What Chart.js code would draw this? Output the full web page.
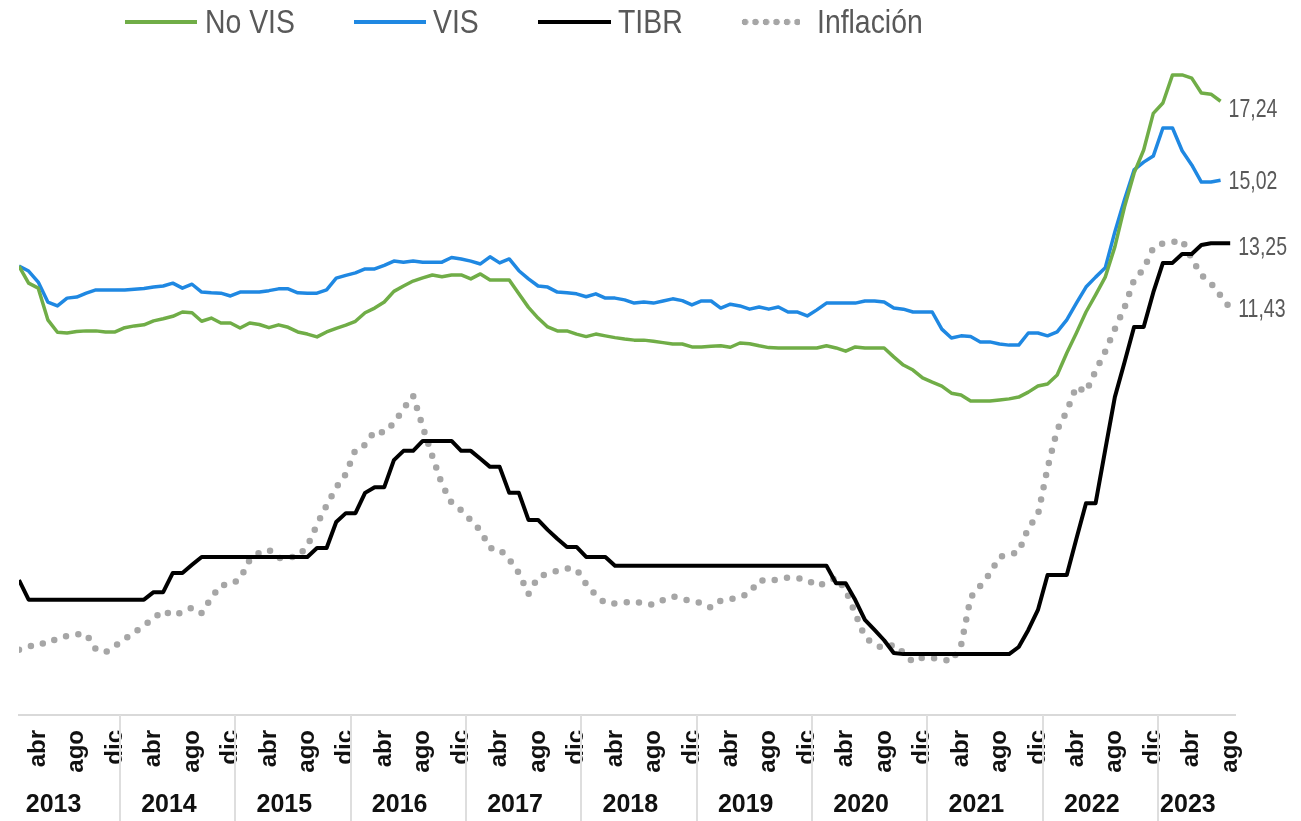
<!DOCTYPE html>
<html>
<head>
<meta charset="utf-8">
<script src="https://cdn.jsdelivr.net/npm/chart.js@4.4.1/dist/chart.umd.min.js"></script>
<style>
  html, body { margin: 0; padding: 0; background: #ffffff; }
  #wrap { position: relative; width: 1301px; height: 821px; overflow: hidden; }
  #c { position: absolute; left: 0; top: 0; }
  #legend { position: absolute; left: 0; top: 0; width: 1301px; height: 44px; pointer-events: none; }
  .sw { position: absolute; top: 20px; height: 4px; }
  .sw.dots { top: 17px; height: 10px; background-repeat: repeat-x; background-position: 0 0; }
  .lt { position: absolute; top: 0; height: 44px; line-height: 44px; color: #595959; white-space: nowrap;
        transform: scaleX(0.86); transform-origin: 0 50%; }
</style>
</head>
<body>
<div id="wrap">
  <canvas id="c" width="1301" height="821"></canvas>
  <div id="legend"></div>
</div>
<script>
// ---------------- DATA ----------------
const SERIES_NAMES = ['No VIS', 'VIS', 'TIBR', 'Inflación'];
const YEARS = ['2013', '2014', '2015', '2016', '2017', '2018', '2019', '2020', '2021', '2022', '2023'];
const TICK_MONTHS = ['abr', 'ago', 'dic'];
const MONTH_NAMES = ['ene', 'feb', 'mar', 'abr', 'may', 'jun', 'jul', 'ago', 'sep', 'oct', 'nov', 'dic'];
const FIRST_MONTH = 1;   // feb 2013 (months counted from ene 2013 = 0)
const LAST_MONTH = 127;  // ago 2023

const NO_VIS = [
  12.61, 12.13, 11.99, 11.10, 10.75, 10.73, 10.77, 10.79, 10.79, 10.76,
  10.76, 10.88, 10.93, 10.96, 11.07, 11.13, 11.20, 11.32, 11.30, 11.06,
  11.15, 11.01, 11.01, 10.87, 11.01, 10.97, 10.88, 10.96, 10.89, 10.76,
  10.70, 10.62, 10.76, 10.86, 10.95, 11.06, 11.30, 11.43, 11.60, 11.90,
  12.05, 12.19, 12.28, 12.36, 12.31, 12.36, 12.36, 12.25, 12.39, 12.22,
  12.22, 12.22, 11.83, 11.45, 11.15, 10.90, 10.79, 10.79, 10.70, 10.63,
  10.70, 10.65, 10.60, 10.56, 10.53, 10.53, 10.50, 10.46, 10.42, 10.42,
  10.34, 10.34, 10.36, 10.37, 10.33, 10.45, 10.43, 10.37, 10.32, 10.31,
  10.31, 10.31, 10.31, 10.31, 10.37, 10.31, 10.22, 10.34, 10.31, 10.31,
  10.31, 10.06, 9.83, 9.69, 9.47, 9.35, 9.24, 9.04, 8.99, 8.82,
  8.82, 8.82, 8.85, 8.88, 8.93, 9.07, 9.24, 9.30, 9.55, 10.17,
  10.73, 11.32, 11.80, 12.30, 13.15, 14.27, 15.22, 15.87, 16.90, 17.19,
  17.98, 17.98, 17.89, 17.47, 17.44, 17.24
];
const VIS = [
  12.61, 12.47, 12.16, 11.60, 11.49, 11.71, 11.74, 11.85, 11.94, 11.94,
  11.94, 11.94, 11.96, 11.98, 12.02, 12.05, 12.13, 11.99, 12.10, 11.88,
  11.86, 11.85, 11.77, 11.88, 11.88, 11.88, 11.92, 11.97, 11.97, 11.86,
  11.85, 11.85, 11.94, 12.27, 12.35, 12.42, 12.53, 12.53, 12.63, 12.75,
  12.72, 12.75, 12.72, 12.72, 12.72, 12.85, 12.81, 12.75, 12.67, 12.87,
  12.70, 12.81, 12.48, 12.25, 12.05, 12.02, 11.88, 11.86, 11.83, 11.75,
  11.83, 11.71, 11.71, 11.66, 11.57, 11.60, 11.57, 11.63, 11.69, 11.64,
  11.52, 11.63, 11.63, 11.43, 11.54, 11.49, 11.40, 11.46, 11.40, 11.46,
  11.32, 11.32, 11.21, 11.38, 11.57, 11.57, 11.57, 11.57, 11.63, 11.63,
  11.60, 11.43, 11.40, 11.32, 11.32, 11.32, 10.84, 10.59, 10.65, 10.63,
  10.48, 10.48, 10.42, 10.39, 10.39, 10.73, 10.73, 10.65, 10.76, 11.10,
  11.57, 12.02, 12.30, 12.56, 13.57, 14.47, 15.31, 15.53, 15.70, 16.49,
  16.49, 15.85, 15.45, 14.97, 14.97, 15.02
];
const TIBR = [
  3.79, 3.24, 3.24, 3.24, 3.24, 3.24, 3.24, 3.24, 3.24, 3.24,
  3.24, 3.24, 3.24, 3.24, 3.45, 3.45, 3.99, 3.99, 4.22, 4.44,
  4.44, 4.44, 4.44, 4.44, 4.44, 4.44, 4.44, 4.44, 4.44, 4.44,
  4.44, 4.69, 4.69, 5.42, 5.67, 5.67, 6.24, 6.40, 6.40, 7.16,
  7.42, 7.42, 7.70, 7.70, 7.70, 7.70, 7.42, 7.42, 7.20, 6.97,
  6.97, 6.24, 6.24, 5.48, 5.48, 5.20, 4.95, 4.72, 4.72, 4.44,
  4.44, 4.44, 4.19, 4.19, 4.19, 4.19, 4.19, 4.19, 4.19, 4.19,
  4.19, 4.19, 4.19, 4.19, 4.19, 4.19, 4.19, 4.19, 4.19, 4.19,
  4.19, 4.19, 4.19, 4.19, 4.19, 3.70, 3.70, 3.23, 2.67, 2.39,
  2.10, 1.74, 1.71, 1.71, 1.71, 1.71, 1.71, 1.71, 1.71, 1.71,
  1.71, 1.71, 1.71, 1.71, 1.91, 2.39, 2.95, 3.93, 3.93, 3.93,
  4.95, 5.95, 5.95, 7.45, 8.93, 9.90, 10.90, 10.90, 11.87, 12.70,
  12.70, 12.95, 12.95, 13.20, 13.25, 13.25, 13.25
];
const INFLACION = [
  1.83, 1.91, 2.02, 2.00, 2.16, 2.22, 2.27, 2.27, 1.84, 1.76, 1.94,
  2.13, 2.32, 2.51, 2.72, 2.93, 2.79, 2.89, 3.02, 2.86, 3.29, 3.65, 3.66,
  3.82, 4.36, 4.56, 4.64, 4.41, 4.42, 4.46, 4.74, 5.35, 5.89, 6.39, 6.77,
  7.45, 7.59, 7.98, 7.93, 8.20, 8.60, 8.97, 8.10, 7.27, 6.48, 5.96, 5.75,
  5.47, 5.18, 4.69, 4.66, 4.37, 3.99, 3.40, 3.87, 3.97, 4.05, 4.12, 4.09,
  3.68, 3.37, 3.14, 3.13, 3.16, 3.20, 3.12, 3.10, 3.23, 3.33, 3.27, 3.18,
  3.15, 3.01, 3.21, 3.25, 3.31, 3.43, 3.79, 3.75, 3.82, 3.86, 3.84, 3.80,
  3.62, 3.72, 3.86, 3.51, 2.85, 2.19, 1.97, 1.88, 1.97, 1.75, 1.49, 1.61,
  1.60, 1.56, 1.51, 1.95, 3.30, 3.63, 3.97, 4.44, 4.51, 4.58, 5.26, 5.62,
  6.94, 8.01, 8.53, 9.23, 9.07, 9.67, 10.21, 10.84, 11.44, 12.22, 12.53, 13.12,
  13.25, 13.28, 13.34, 12.82, 12.36, 12.13, 11.78, 11.43
];

// month labels for every point (category list)
const MONTH_LABELS = [];
for (let m = FIRST_MONTH; m <= LAST_MONTH; m++) {
  MONTH_LABELS.push(MONTH_NAMES[m % 12] + ' ' + YEARS[Math.floor(m / 12)]);
}

// ---------------- STYLE ----------------
const SANS = '"Liberation Sans", Arial, sans-serif';
const COLORS = ['#70AD47', '#1F88E2', '#000000', '#A6A6A6'];
const END_DY = [9, 2, 5, 2];
const YEAR_LABEL_SHIFT = -0.9; // months

function toPoints(arr) {
  return arr.map((v, i) => ({ x: FIRST_MONTH + i, y: v }));
}

// legend (HTML overlay, real text)
(function buildLegend() {
  const L = document.getElementById('legend');
  const swX = [125, 354, 538, 740];
  const swW = [72, 72, 73, 60];
  const txX = [205, 433, 618, 817];
  SERIES_NAMES.forEach((name, i) => {
    const sw = document.createElement('div');
    sw.className = 'sw' + (i === 3 ? ' dots' : '');
    sw.style.left = swX[i] + 'px';
    sw.style.width = swW[i] + 'px';
    if (i === 3) {
      sw.style.backgroundImage = 'radial-gradient(circle at 5px 5px, ' + COLORS[3] + ' 3px, rgba(255,255,255,0) 3.6px)';
      sw.style.backgroundSize = '10.5px 10px';
    } else {
      sw.style.background = COLORS[i];
    }
    L.appendChild(sw);
    const t = document.createElement('div');
    t.className = 'lt';
    t.style.left = txX[i] + 'px';
    t.style.fontFamily = SANS;
    t.style.fontSize = '33px';
    t.textContent = name;
    L.appendChild(t);
  });
})();

// separators between years (positions from the x scale)
const yearSeparators = {
  id: 'yearSeparators',
  afterDraw(chart) {
    const xs = chart.scales.x;
    const ctx = chart.ctx;
    ctx.save();
    ctx.strokeStyle = '#DEDEDE';
    ctx.lineWidth = 2;
    for (let k = 1; k < YEARS.length; k++) {
      const px = Math.round(xs.getPixelForValue(12 * k - 0.5));
      ctx.beginPath();
      ctx.moveTo(px, xs.top);
      ctx.lineTo(px, chart.height);
      ctx.stroke();
    }
    ctx.restore();
  }
};

// value labels at the end of each line
const endLabels = {
  id: 'endLabels',
  afterDatasetsDraw(chart) {
    const ctx = chart.ctx;
    chart.data.datasets.forEach((d, i) => {
      const meta = chart.getDatasetMeta(i);
      const el = meta.data[meta.data.length - 1];
      const v = d.data[d.data.length - 1].y;
      ctx.save();
      ctx.translate(el.x + 8, el.y + END_DY[i]);
      ctx.scale(0.78, 1);
      ctx.font = '25px ' + SANS;
      ctx.fillStyle = '#595959';
      ctx.textAlign = 'left';
      ctx.textBaseline = 'middle';
      ctx.fillText(v.toFixed(2).replace('.', ','), 0, 0);
      ctx.restore();
    });
  }
};

const seriesData = [NO_VIS, VIS, TIBR, INFLACION];
const datasets = seriesData.map((arr, i) => {
  const base = {
    label: SERIES_NAMES[i],
    data: toPoints(arr),
    borderColor: COLORS[i],
    backgroundColor: COLORS[i],
    borderWidth: i === 2 ? 4 : 3.5,
    pointRadius: 0,
    pointHoverRadius: 0,
    tension: 0,
    fill: false,
    borderJoinStyle: 'round',
    borderCapStyle: 'butt'
  };
  if (i === 3) {
    base.borderWidth = 6.5;
    base.borderDash = [0, 12.5];
    base.borderCapStyle = 'round';
  }
  return base;
});

new Chart(document.getElementById('c'), {
  type: 'line',
  data: { datasets },
  options: {
    responsive: false,
    animation: false,
    events: [],
    layout: { padding: { left: 19, right: 66, top: 3, bottom: 0 } },
    plugins: { legend: { display: false }, tooltip: { enabled: false } },
    scales: {
      y: { display: false, min: 0, max: 20 },
      x: {
        type: 'linear',
        position: 'bottom',
        weight: 0,
        min: FIRST_MONTH,
        max: LAST_MONTH + 0.5,
        bounds: 'data',
        grid: { display: false, drawTicks: false },
        border: { display: true, color: '#D9D9D9', width: 2 },
        afterBuildTicks(s) {
          const t = [];
          for (let m = 3; m <= LAST_MONTH; m += 4) t.push({ value: m });
          s.ticks = t;
        },
        afterFit(s) { s.height = 58; },
        ticks: {
          autoSkip: false,
          minRotation: 90,
          maxRotation: 90,
          padding: 15,
          color: '#111111',
          font: { family: SANS, size: 24, weight: 'bold' },
          callback: (v) => TICK_MONTHS[Math.round((v - 3) / 4) % 3]
        }
      },
      x2: {
        type: 'linear',
        position: 'bottom',
        weight: 1,
        min: FIRST_MONTH,
        max: LAST_MONTH + 0.5,
        bounds: 'data',
        grid: { display: false, drawTicks: false },
        border: { display: false },
        afterBuildTicks(s) {
          s.ticks = YEARS.map((y, k) => {
            const a = 12 * k - 0.5;
            const b = Math.min(12 * k + 11.5, LAST_MONTH + 0.5);
            return { value: (a + b) / 2 + YEAR_LABEL_SHIFT };
          });
        },
        afterFit(s) { s.height = 48; },
        ticks: {
          autoSkip: false,
          maxRotation: 0,
          minRotation: 0,
          padding: 17,
          color: '#111111',
          font: { family: SANS, size: 25, weight: 'bold' },
          callback: (v, idx) => YEARS[idx]
        }
      }
    }
  },
  plugins: [yearSeparators, endLabels]
});
</script>
</body>
</html>
